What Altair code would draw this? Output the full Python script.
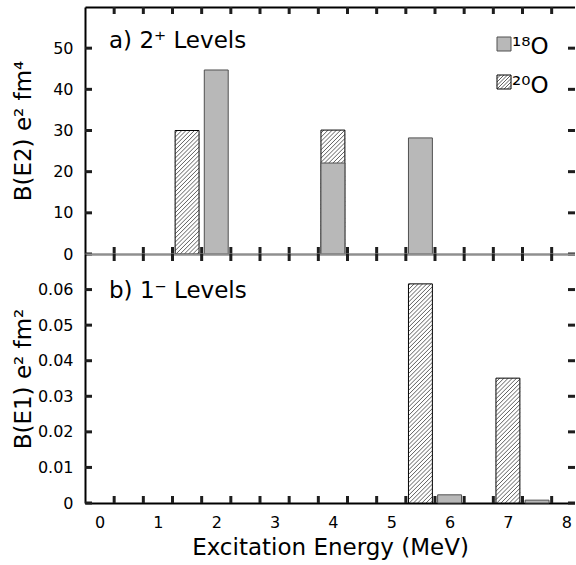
import altair as alt
import pandas as pd

# ---------------- data ----------------
e2_18O_energy = [2.0, 4.0, 5.5]
e2_18O_value = [44.7, 22.1, 28.2]
e2_20O_energy = [1.5, 4.0]
e2_20O_value = [30.0, 30.1]

e1_18O_energy = [6.0, 7.5]
e1_18O_value = [0.0023, 0.0008]
e1_20O_energy = [5.5, 7.0]
e1_20O_value = [0.0616, 0.0351]

x_label_values = [0, 1, 2, 3, 4, 5, 6, 7, 8]
bin_edges = [0.25, 0.75, 1.25, 1.75, 2.25, 2.75, 3.25, 3.75, 4.25,
             4.75, 5.25, 5.75, 6.25, 6.75, 7.25, 7.75]
e2_ticks = [0, 10, 20, 30, 40, 50]
e1_ticks = [0, 0.01, 0.02, 0.03, 0.04, 0.05, 0.06]

panel_a_label = ["a) 2\u207a Levels"]
panel_b_label = ["b) 1\u207b Levels"]
legend_labels = ["\u00b9\u2078O", "\u00b2\u2070O"]

# ---------------- layout / style constants ----------------
FONT = "DejaVu Sans"
W = 490
H1 = 247
H2 = 249
X_DOMAIN = [-0.25, 8.15]
Y1_DOMAIN = [0, 60]
Y2_DOMAIN = [0, 0.07]
HALF = 0.205          # half bar width (MeV)
HATCH_SPACING = 4.2   # px between hatch lines (vertical)
TICK = 7              # tick length in px
TICK_W = 3            # tick thickness in px
TICK_COLOR = "#1e1e1e"
GRAY = "#b8b8b8"
GRAY_EDGE = "#505050"
MID_LINE = "#8f8f8f"
XS = W / (X_DOMAIN[1] - X_DOMAIN[0])   # px per MeV


def bars(energies, values):
    return pd.DataFrame({
        "energy": energies,
        "value": values,
        "x0": [e - HALF for e in energies],
        "x1": [e + HALF for e in energies],
        "base": [0.0] * len(energies),
    })


def hatch(energies, values, ydom, H):
    ys = H / (ydom[1] - ydom[0])
    rows = []
    for e, v in zip(energies, values):
        bw = 2 * HALF * XS
        bh = v * ys
        c = -bw + HATCH_SPACING / 2
        while c < bh:
            xa = max(0.0, -c)
            xb = min(bw, bh - c)
            if xb > xa:
                rows.append({
                    "x": e - HALF + xa / XS, "y": (xa + c) / ys,
                    "x2": e - HALF + xb / XS, "y2": (xb + c) / ys,
                })
            c += HATCH_SPACING
    return pd.DataFrame(rows)


def tick_boxes(ydom, H, ticks):
    """Thin rectangles (in data units) for inward ticks on all four edges."""
    ys = H / (ydom[1] - ydom[0])
    hx = TICK_W / 2 / XS
    hy = TICK_W / 2 / ys
    rows = []
    for e in bin_edges:
        rows.append({"a": e - hx, "b": e + hx, "c": ydom[1], "d": ydom[1] - TICK / ys})
        rows.append({"a": e - hx, "b": e + hx, "c": ydom[0], "d": ydom[0] + TICK / ys})
    for v in ticks:
        rows.append({"a": X_DOMAIN[0], "b": X_DOMAIN[0] + TICK / XS, "c": v - hy, "d": v + hy})
        rows.append({"a": X_DOMAIN[1] - TICK / XS, "b": X_DOMAIN[1], "c": v - hy, "d": v + hy})
    return pd.DataFrame(rows)


def line_axis(orient, offset, color):
    return alt.Axis(orient=orient, offset=offset, values=[0], labels=False,
                    title=None, ticks=False, domain=True, domainColor=color,
                    domainWidth=2, grid=False)


xscale = alt.Scale(domain=X_DOMAIN, nice=False, zero=False)


def panel(e18, v18, e20, v20, ydom, H, ticks, ytitle, label_text, label_y,
          bottom, fmt):
    yscale = alt.Scale(domain=ydom, nice=False, zero=False)
    ylabel_axis = alt.Axis(orient="left", values=ticks, format=fmt,
                           ticks=False, tickSize=0, labelPadding=12,
                           labelFontSize=16, labelColor="black",
                           domain=True, domainColor="black", domainWidth=2,
                           title=ytitle, titleFontSize=23,
                           titleFontWeight="normal", titleX=-62,
                           titleBaseline="middle",
                           titleColor="black", grid=False)
    if bottom:
        x_first = alt.Axis(orient="bottom", values=x_label_values, format="d",
                           ticks=False, tickSize=0, labelPadding=11,
                           labelFontSize=16, labelColor="black",
                           domain=True, domainColor="black", domainWidth=2,
                           title="Excitation Energy (MeV)", titleFontSize=23,
                           titleFontWeight="normal", titlePadding=6,
                           titleColor="black", grid=False)
        x_second = line_axis("bottom", -H, MID_LINE)
    else:
        x_first = line_axis("top", -H, MID_LINE)
        x_second = line_axis("bottom", -H, "black")

    d20 = bars(e20, v20)
    d18 = bars(e18, v18)
    hd = hatch(e20, v20, ydom, H)
    td = tick_boxes(ydom, H, ticks)

    hatched = alt.Chart(d20).mark_rect(fill="white", stroke="black",
                                       strokeWidth=1).encode(
        x=alt.X("x0:Q", scale=xscale, axis=x_first),
        x2="x1:Q",
        y=alt.Y("value:Q", scale=yscale, axis=ylabel_axis),
        y2="base:Q",
    )
    lines = alt.Chart(hd).mark_rule(stroke="#1a1a1a", strokeWidth=0.7).encode(
        x=alt.X("x:Q", scale=xscale, axis=x_second),
        x2="x2:Q",
        y=alt.Y("y:Q", scale=yscale, axis=None),
        y2="y2:Q",
    )
    gray = alt.Chart(d18).mark_rect(fill=GRAY, stroke=GRAY_EDGE,
                                    strokeWidth=1).encode(
        x=alt.X("x0:Q", scale=xscale, axis=None),
        x2="x1:Q",
        y=alt.Y("value:Q", scale=yscale, axis=None),
        y2="base:Q",
    )
    tick_marks = alt.Chart(td).mark_rect(fill=TICK_COLOR).encode(
        x=alt.X("a:Q", scale=xscale, axis=None),
        x2="b:Q",
        y=alt.Y("c:Q", scale=yscale, axis=None),
        y2="d:Q",
    )
    label = alt.Chart(pd.DataFrame({"t": label_text})).mark_text(
        align="left", baseline="middle", fontSize=23, font=FONT,
        color="black").encode(
        x=alt.value(24), y=alt.value(label_y), text="t:N")
    return [hatched, lines, gray, tick_marks, label]


top_layers = panel(e2_18O_energy, e2_18O_value, e2_20O_energy, e2_20O_value,
                   Y1_DOMAIN, H1, e2_ticks, "B(E2) e\u00b2 fm\u2074",
                   panel_a_label, 34, False, "d")

# legend (drawn inside panel a)
leg_df = pd.DataFrame({"t": legend_labels})
leg_gray = alt.Chart(leg_df.iloc[[0]]).mark_rect(
    fill=GRAY, stroke=GRAY_EDGE, strokeWidth=1).encode(
    x=alt.value(412), x2=alt.value(426), y=alt.value(30), y2=alt.value(44))
leg_hatch_box = alt.Chart(leg_df.iloc[[1]]).mark_rect(
    fill="white", stroke="black", strokeWidth=1).encode(
    x=alt.value(412), x2=alt.value(426), y=alt.value(68), y2=alt.value(82))
leg_lines = []
for k in range(4):
    o = 3.5 * (k + 1)
    leg_lines.append(
        alt.Chart(leg_df.iloc[[1]]).mark_rule(stroke="#1a1a1a", strokeWidth=0.7).encode(
            x=alt.value(412), y=alt.value(68 + o),
            x2=alt.value(412 + o), y2=alt.value(68)))
    leg_lines.append(
        alt.Chart(leg_df.iloc[[1]]).mark_rule(stroke="#1a1a1a", strokeWidth=0.7).encode(
            x=alt.value(412 + o), y=alt.value(82),
            x2=alt.value(426), y2=alt.value(68 + o)))
leg_text1 = alt.Chart(leg_df.iloc[[0]]).mark_text(
    align="left", baseline="alphabetic", fontSize=23, font=FONT,
    color="black").encode(x=alt.value(427), y=alt.value(47), text="t:N")
leg_text2 = alt.Chart(leg_df.iloc[[1]]).mark_text(
    align="left", baseline="alphabetic", fontSize=23, font=FONT,
    color="black").encode(x=alt.value(427), y=alt.value(86), text="t:N")

top = alt.layer(*top_layers, leg_gray, leg_hatch_box, *leg_lines,
                leg_text1, leg_text2).resolve_axis(
    x="independent", y="independent").properties(width=W, height=H1)

bottom_layers = panel(e1_18O_energy, e1_18O_value, e1_20O_energy,
                      e1_20O_value, Y2_DOMAIN, H2, e1_ticks,
                      "B(E1) e\u00b2 fm\u00b2", panel_b_label, 37, True,
                      ".2~f")
bottom = alt.layer(*bottom_layers).resolve_axis(
    x="independent", y="independent").properties(width=W, height=H2)

chart = alt.vconcat(top, bottom, spacing=0, bounds="flush").properties(
    padding={"left": 11, "top": 7, "right": 0, "bottom": 2}
).configure(font=FONT).configure_view(stroke=None).configure_axis(
    labelFont=FONT, titleFont=FONT, grid=False)

chart.save("out.html", embed_options={"renderer": "svg", "actions": False})
